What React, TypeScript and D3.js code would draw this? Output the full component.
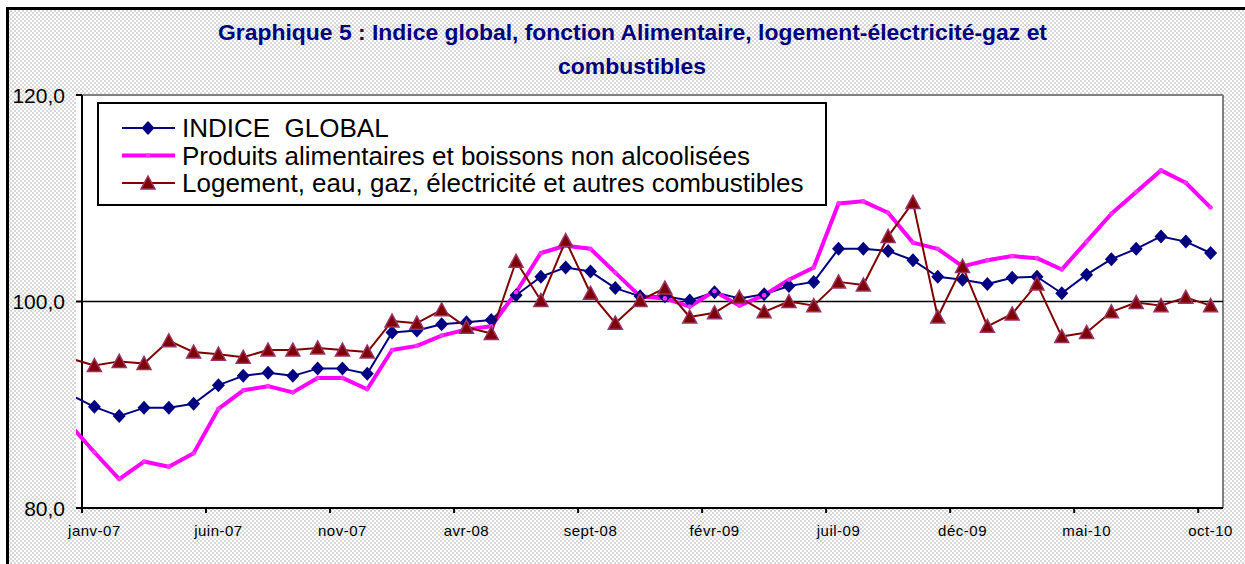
import React from "react";
import * as d3 from "d3";

// monthly categories, janv-07 .. oct-10
const months = [
  "janv-07", "févr-07", "mars-07", "avr-07", "mai-07", "juin-07", "juil-07", "août-07", "sept-07", "oct-07", "nov-07", "déc-07",
  "janv-08", "févr-08", "mars-08", "avr-08", "mai-08", "juin-08", "juil-08", "août-08", "sept-08", "oct-08", "nov-08", "déc-08",
  "janv-09", "févr-09", "mars-09", "avr-09", "mai-09", "juin-09", "juil-09", "août-09", "sept-09", "oct-09", "nov-09", "déc-09",
  "janv-10", "févr-10", "mars-10", "avr-10", "mai-10", "juin-10", "juil-10", "août-10", "sept-10", "oct-10",
];

// value of déc-06, only visible as a stub left of the axis
const priorValues = { global: 91.0, alim: 88.1, logement: 94.5 };

const indiceGlobal = [
  89.8, 88.9, 89.7, 89.7, 90.1, 91.9, 92.8, 93.1, 92.8, 93.5, 93.5, 93.0,
  97.0, 97.2, 97.8, 98.0, 98.2, 100.6, 102.4, 103.3, 102.9, 101.3, 100.5, 100.5,
  100.1, 100.9, 100.3, 100.7, 101.5, 101.9, 105.1, 105.1, 104.9, 104.0, 102.4, 102.1,
  101.7, 102.3, 102.4, 100.8, 102.6, 104.1, 105.1, 106.3, 105.8, 104.7,
];

const alimentaire = [
  85.4, 82.8, 84.5, 84.0, 85.3, 89.6, 91.4, 91.8, 91.2, 92.6, 92.6, 91.5,
  95.3, 95.7, 96.7, 97.3, 97.6, 100.9, 104.7, 105.4, 105.1, 102.8, 100.5, 100.3,
  99.5, 101.0, 99.6, 100.6, 102.1, 103.3, 109.5, 109.7, 108.6, 105.7, 105.1, 103.4,
  104.0, 104.4, 104.2, 103.1, 105.8, 108.5, 110.6, 112.7, 111.5, 109.1,
];

const logement = [
  93.8, 94.2, 94.0, 96.2, 95.1, 94.9, 94.6, 95.3, 95.3, 95.5, 95.3, 95.1,
  98.1, 97.9, 99.2, 97.5, 96.9, 103.9, 100.1, 105.9, 100.8, 97.9, 100.1, 101.3,
  98.5, 98.9, 100.4, 99.0, 100.0, 99.6, 101.9, 101.6, 106.3, 109.6, 98.5, 103.4,
  97.6, 98.8, 101.7, 96.6, 97.0, 99.0, 99.9, 99.6, 100.4, 99.6,
];

const yTicks = [80, 100, 120];
const legendLabels = [
  "INDICE  GLOBAL",
  "Produits alimentaires et boissons non alcoolisées",
  "Logement, eau, gaz, électricité et autres combustibles",
];

const NAVY = "#000080";
const MAGENTA = "#FF00FF";
const MAROON = "#800000";

const diamond = "M0,-7L6.5,0L0,7L-6.5,0Z";
const triangle = "M0,-7L7,6L-7,6Z";

export default function App() {
  const W = 1245;
  const H = 564;
  const left = 82, right = 1223, top = 95, bottom = 508;

  const x = d3.scaleLinear().domain([0, months.length]).range([left, right]);
  const y = d3.scaleLinear().domain([80, 120]).range([bottom, top]);
  const cx = (i: number) => x(i + 0.5);

  const line = d3
    .line<number>()
    .x((_, i) => cx(i - 1))
    .y((d) => y(d));

  const series = [
    { values: indiceGlobal, prior: priorValues.global, color: NAVY, width: 2 },
    { values: alimentaire, prior: priorValues.alim, color: MAGENTA, width: 4 },
    { values: logement, prior: priorValues.logement, color: MAROON, width: 2 },
  ];

  const tickIdx = d3.range(0, months.length, 5);

  const font = "'Liberation Sans', Arial, sans-serif";

  return (
    <svg
      width={W}
      height={H}
      style={{ position: "absolute", left: 0, top: 0, fontFamily: font }}
    >
      <defs>
        <pattern id="dots" width="4" height="4" patternUnits="userSpaceOnUse">
          <rect width="4" height="4" fill="#ffffff" />
          <rect x="0" y="0" width="2" height="2" fill="#d8d8d8" />
          <rect x="2" y="2" width="2" height="2" fill="#d8d8d8" />
        </pattern>
        <clipPath id="plotClip">
          <rect x={76} y={top - 10} width={right - 76} height={bottom - top + 20} />
        </clipPath>
      </defs>

      <rect x={0} y={0} width={W} height={H} fill="#ffffff" />
      <rect x={7.5} y={8.5} width={W + 20} height={H + 20} fill="url(#dots)" stroke="#000" strokeWidth={3} />

      {/* title */}
      <text
        x={218}
        y={40}
        fontSize={22}
        fontWeight="bold"
        fill={NAVY}
        textLength={829}
        lengthAdjust="spacingAndGlyphs"
      >
        Graphique 5 : Indice global, fonction Alimentaire, logement-électricité-gaz et
      </text>
      <text
        x={558}
        y={74}
        fontSize={22}
        fontWeight="bold"
        fill={NAVY}
        textLength={148}
        lengthAdjust="spacingAndGlyphs"
      >
        combustibles
      </text>

      {/* plot area */}
      <rect x={76} y={top} width={right - 76} height={bottom - top} fill="#ffffff" />
      <line x1={left} x2={right} y1={top} y2={top} stroke="#808080" strokeWidth={2} />
      <line x1={right} x2={right} y1={top} y2={bottom} stroke="#808080" strokeWidth={2} />

      {/* gridline at 100 */}
      <line x1={left} x2={right} y1={y(100)} y2={y(100)} stroke="#000" strokeWidth={1.5} />

      {/* y axis */}
      <line x1={left} x2={left} y1={top} y2={bottom + 5} stroke="#000" strokeWidth={2} />
      {yTicks.map((t) => (
        <g key={t}>
          <line x1={left - 6} x2={left} y1={y(t)} y2={y(t)} stroke="#000" strokeWidth={2} />
          <text x={65} y={y(t)} dy="0.36em" textAnchor="end" fontSize={21} fill="#000">
            {t.toFixed(1).replace(".", ",")}
          </text>
        </g>
      ))}

      {/* x axis */}
      <line x1={left} x2={right} y1={bottom} y2={bottom} stroke="#000" strokeWidth={2} />
      {tickIdx.map((i) => (
        <g key={i}>
          <line x1={x(i)} x2={x(i)} y1={bottom} y2={bottom + 5} stroke="#000" strokeWidth={2} />
          <text x={cx(i)} y={536} textAnchor="middle" fontSize={15} letterSpacing={0.5} fill="#000">
            {months[i]}
          </text>
        </g>
      ))}

      {/* lines */}
      <g clipPath="url(#plotClip)">
        {series.map((s, k) => (
          <path
            key={k}
            d={line([s.prior, ...s.values]) || ""}
            fill="none"
            stroke={s.color}
            strokeWidth={s.width}
            strokeLinejoin="round"
          />
        ))}
      </g>

      {/* markers */}
      {indiceGlobal.map((v, i) => (
        <path key={"g" + i} d={diamond} transform={`translate(${cx(i)},${y(v)})`} fill={NAVY} />
      ))}
      {alimentaire.map((v, i) => (
        <circle key={"a" + i} cx={cx(i)} cy={y(v)} r={2.3} fill="#ff33ff" />
      ))}
      {logement.map((v, i) => (
        <path
          key={"l" + i}
          d={triangle}
          transform={`translate(${cx(i)},${y(v)})`}
          fill={MAROON}
          stroke="#993366"
          strokeWidth={1.5}
        />
      ))}

      {/* legend */}
      <rect x={98} y={103} width={728} height={102} fill="#ffffff" stroke="#000" strokeWidth={2} />
      {legendLabels.map((lab, k) => {
        const ly = 128 + k * 27.5;
        const s = series[k];
        return (
          <g key={lab}>
            <line x1={122} x2={175} y1={ly} y2={ly} stroke={s.color} strokeWidth={s.width} />
            {k === 0 && <path d={diamond} transform={`translate(148,${ly})`} fill={NAVY} />}
            {k === 1 && <circle cx={148} cy={ly} r={2.3} fill="#ff33ff" />}
            {k === 2 && (
              <path
                d={triangle}
                transform={`translate(148,${ly})`}
                fill={MAROON}
                stroke="#993366"
                strokeWidth={1.5}
              />
            )}
            <text x={182} y={ly} dy="0.36em" fontSize={26} fill="#000" style={{ whiteSpace: "pre" }}>
              {lab}
            </text>
          </g>
        );
      })}
    </svg>
  );
}
